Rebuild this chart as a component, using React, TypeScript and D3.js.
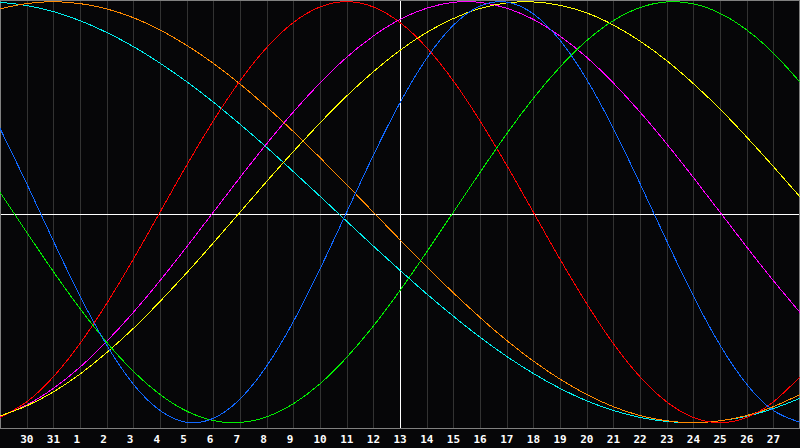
import { useEffect } from "react"
import * as d3 from "d3"

// day labels under the gridlines, one per day column (first and last are off the edges)
const days = ["29", "30", "31", "1", "2", "3", "4", "5", "6", "7", "8", "9", "10", "11", "12", "13",
  "14", "15", "16", "17", "18", "19", "20", "21", "22", "23", "24", "25", "26", "27", "28"]

// cycle values (-1..1) read at each day
const physical = [0.398, 0.136, -0.136, -0.398, -0.631, -0.817, -0.942, -0.998, -0.979, -0.888, -0.731,
  -0.520, -0.270, 0, 0.270, 0.520, 0.731, 0.888, 0.979, 0.998, 0.942, 0.817, 0.631, 0.398, 0.136,
  -0.136, -0.398, -0.631, -0.817, -0.942, -0.998]
const emotional = [-0.975, -0.901, -0.782, -0.624, -0.434, -0.223, 0, 0.223, 0.434, 0.624, 0.782,
  0.901, 0.975, 1, 0.975, 0.901, 0.782, 0.624, 0.434, 0.223, 0, -0.223, -0.434, -0.624, -0.782,
  -0.901, -0.975, -1, -0.975, -0.901, -0.782]
const intellectual = [0.095, -0.095, -0.282, -0.458, -0.618, -0.756, -0.866, -0.945, -0.990, -0.999,
  -0.972, -0.910, -0.815, -0.690, -0.541, -0.372, -0.189, 0, 0.189, 0.372, 0.541, 0.690, 0.815,
  0.910, 0.972, 0.999, 0.990, 0.945, 0.866, 0.756, 0.618]
const intuitive = [-0.969, -0.916, -0.837, -0.736, -0.614, -0.476, -0.325, -0.165, 0, 0.165, 0.325,
  0.476, 0.614, 0.736, 0.837, 0.916, 0.969, 0.997, 0.997, 0.969, 0.916, 0.837, 0.736, 0.614, 0.476,
  0.325, 0.165, 0, -0.165, -0.325, -0.476]
const aesthetic = [-0.968, -0.920, -0.854, -0.769, -0.667, -0.552, -0.424, -0.288, -0.146, 0, 0.146,
  0.288, 0.424, 0.552, 0.667, 0.769, 0.854, 0.920, 0.968, 0.994, 0.999, 0.983, 0.947, 0.889, 0.813,
  0.720, 0.611, 0.490, 0.357, 0.217, 0.073]
const awareness = [0.966, 0.991, 1, 0.991, 0.966, 0.924, 0.866, 0.793, 0.707, 0.609, 0.5, 0.383,
  0.259, 0.131, 0, -0.131, -0.259, -0.383, -0.5, -0.609, -0.707, -0.793, -0.866, -0.924, -0.966,
  -0.991, -1, -0.991, -0.966, -0.924, -0.866]
const spiritual = [0.997, 0.982, 0.953, 0.910, 0.854, 0.787, 0.708, 0.620, 0.523, 0.418, 0.308,
  0.193, 0.076, -0.043, -0.161, -0.276, -0.388, -0.494, -0.594, -0.685, -0.766, -0.837, -0.896,
  -0.942, -0.975, -0.994, -1, -0.991, -0.969, -0.933, -0.884]

const series = [
  { name: "spiritual", values: spiritual, color: "#00f0f0" },
  { name: "awareness", values: awareness, color: "#ff8a00" },
  { name: "emotional", values: emotional, color: "#ff0000" },
  { name: "intuitive", values: intuitive, color: "#ff00ff" },
  { name: "aesthetic", values: aesthetic, color: "#ffff00" },
  { name: "intellectual", values: intellectual, color: "#00ee00" },
  { name: "physical", values: physical, color: "#1068ff" },
]

const W = 800, H = 448, plotB = 428

export default function App() {
  useEffect(() => {
    document.body.style.margin = "0"
    document.body.style.background = "#060608"
  }, [])

  const x = d3.scaleLinear().domain([0, days.length - 1]).range([0, W])
  const y = d3.scaleLinear().domain([-1, 1]).range([422.7, 1.7])
  const line = d3.line<number>().x((_, i) => x(i)).y(d => y(d)).curve(d3.curveNatural)
  const px = (v: number) => Math.round(v) + 0.5

  return (
    <svg width={W} height={H} style={{ display: "block", background: "#060608" }}>
      <rect x={0} y={0} width={W} height={H} fill="#060608" />
      {days.map((d, i) => i > 0 && i < days.length - 1 && i !== 15 ? (
        <line key={"g" + d + i} x1={px(x(i))} x2={px(x(i))} y1={0} y2={plotB} stroke="#323232" strokeWidth={1} />
      ) : null)}
      <line x1={0} x2={W} y1={214.5} y2={214.5} stroke="#ffffff" strokeWidth={1} />
      <line x1={px(x(15))} x2={px(x(15))} y1={0} y2={plotB} stroke="#ffffff" strokeWidth={1} />
      <rect x={0.5} y={0.5} width={W - 1} height={plotB} fill="none" stroke="#808080" strokeWidth={1} />
      {series.map(s => (
        <path key={s.name} d={line(s.values) ?? ""} fill="none" stroke={s.color} strokeWidth={1}
          shapeRendering="crispEdges" />
      ))}
      {days.map((d, i) => i > 0 && i < days.length - 1 ? (
        <text key={"t" + d + i} x={x(i) - 6.5} y={443} textAnchor="start" fill="#ffffff"
          style={{ font: "bold 11px 'DejaVu Sans Mono', monospace" }}>{d}</text>
      ) : null)}
    </svg>
  )
}
